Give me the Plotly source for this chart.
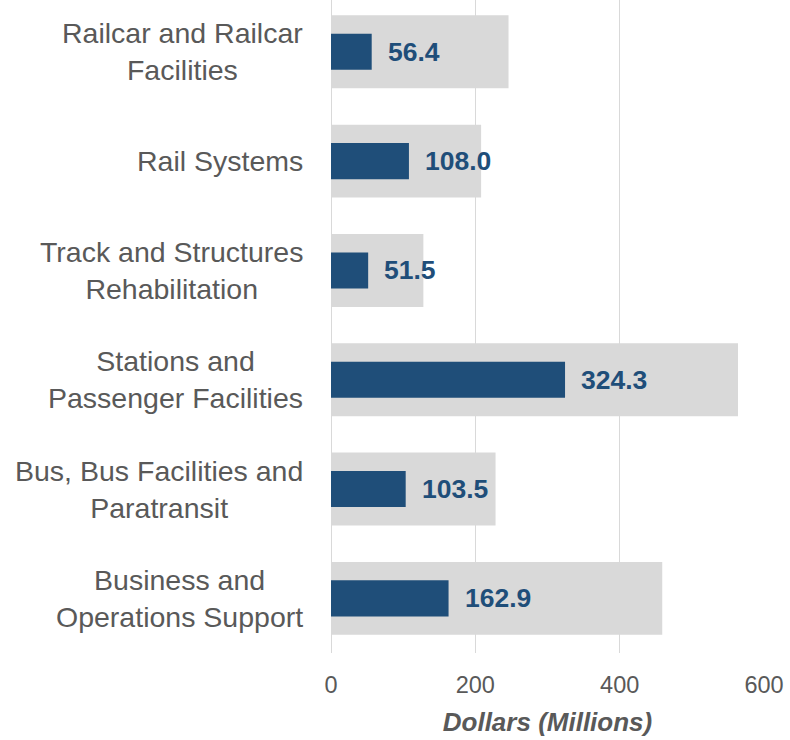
import plotly.graph_objects as go

# Program categories (top to bottom)
categories = [
    "Railcar and Railcar<br>Facilities",
    "Rail Systems",
    "Track and Structures<br>Rehabilitation",
    "Stations and<br>Passenger Facilities",
    "Bus, Bus Facilities and<br>Paratransit",
    "Business and<br>Operations Support",
]
# Budget (background bars) and actual amounts, $ millions
budget = [246, 208, 128, 564, 228, 459]
actual = [56.4, 108.0, 51.5, 324.3, 103.5, 162.9]
x_ticks = [0, 200, 400, 600]

BLUE = "#1f4e79"
GRAY = "#d9d9d9"
TEXT = "#595959"
FONT = "Liberation Sans, Arial, sans-serif"

idx = list(range(len(categories)))

fig = go.Figure()
fig.add_trace(go.Bar(
    y=idx, x=budget, orientation="h", width=0.667,
    marker=dict(color=GRAY, line=dict(width=0)),
    hoverinfo="skip",
))
fig.add_trace(go.Bar(
    y=idx, x=actual, orientation="h", width=0.33,
    marker=dict(color=BLUE, line=dict(width=0)),
    hoverinfo="skip",
))

annotations = []
for i, (cat, v) in enumerate(zip(categories, actual)):
    annotations.append(dict(
        x=v, y=i, xref="x", yref="y", text=f"<b>{v:.1f}</b>",
        showarrow=False, xanchor="left", yanchor="middle", xshift=14,
        font=dict(family=FONT, size=26.5, color=BLUE),
    ))
    annotations.append(dict(
        x=0, y=i, xref="paper", yref="y", text=cat,
        showarrow=False, xanchor="right", yanchor="middle", align="center",
        xshift=-26,
        font=dict(family=FONT, size=28.5, color=TEXT),
    ))

fig.update_layout(
    width=790, height=740,
    margin=dict(l=331, r=26, t=0, b=87),
    paper_bgcolor="white", plot_bgcolor="white",
    barmode="overlay", showlegend=False,
    annotations=annotations,
    xaxis=dict(
        range=[0, 600], tickvals=x_ticks, showgrid=True,
        gridcolor=GRAY, gridwidth=1.3, zeroline=True, zerolinecolor=GRAY,
        zerolinewidth=1.3, showline=False, ticks="",
        ticklabelstandoff=15,
        tickfont=dict(family=FONT, size=23.5, color=TEXT),
        title=dict(text="<b><i>Dollars (Millions)</i></b>", standoff=16,
                   font=dict(family=FONT, size=26, color=TEXT)),
    ),
    yaxis=dict(
        range=[5.5, -0.474], showticklabels=False, showgrid=False,
        zeroline=False, showline=False, ticks="",
    ),
)

fig.write_html("out.html")
